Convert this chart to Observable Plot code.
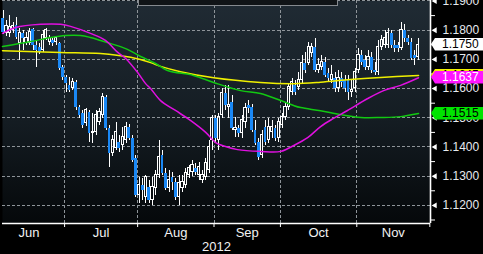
<!DOCTYPE html>
<html><head><meta charset="utf-8">
<script src="https://cdn.jsdelivr.net/npm/d3@7"></script>
<script src="https://cdn.jsdelivr.net/npm/@observablehq/plot@0.6"></script>
<style>
html,body{margin:0;padding:0;background:#000;}
#chart{position:relative;width:483px;height:254px;overflow:hidden;background:#000;}
#legendbox{position:absolute;left:138px;top:-4px;width:198px;height:8px;border:1px solid #858a8f;background:#101417;}
svg{display:block;}
</style></head><body><div id="chart"><div id="legendbox"></div></div>
<script>
// ---- candle data (one per trading day, Jun 5 – Nov 2012) ----
const opens = [1.1840,1.1789,1.1789,1.1799,1.1816,1.1755,1.1789,1.1755,1.1755,1.1803,
1.1748,1.1741,1.1731,1.1772,1.1758,1.1765,1.1758,1.1755,1.1673,1.1639,
1.1611,1.1601,1.1622,1.1536,1.1516,1.1481,1.1519,1.1447,1.1451,1.1485,
1.1509,1.1570,1.1464,1.1379,1.1396,1.1416,1.1406,1.1423,1.1468,1.1430,
1.1362,1.1235,1.1269,1.1228,1.1262,1.1218,1.1259,1.1304,1.1372,1.1310,
1.1259,1.1297,1.1280,1.1228,1.1259,1.1269,1.1304,1.1314,1.1327,1.1304,
1.1286,1.1297,1.1321,1.1423,1.1498,1.1423,1.1509,1.1584,1.1536,1.1553,
1.1457,1.1464,1.1447,1.1485,1.1543,1.1536,1.1457,1.1416,1.1372,1.1468,
1.1423,1.1451,1.1464,1.1430,1.1474,1.1502,1.1536,1.1587,1.1611,1.1604,
1.1628,1.1687,1.1687,1.1721,1.1741,1.1663,1.1673,1.1690,1.1652,1.1628,
1.1635,1.1601,1.1635,1.1628,1.1628,1.1587,1.1601,1.1663,1.1714,1.1697,
1.1673,1.1707,1.1663,1.1656,1.1741,1.1748,1.1748,1.1789,1.1748,1.1748,
1.1738,1.1799,1.1772,1.1758,1.1714,1.1707];
const highs = [1.1868,1.1834,1.1851,1.1827,1.1844,1.1806,1.1799,1.1793,1.1806,1.1806,
1.1765,1.1755,1.1799,1.1806,1.1782,1.1775,1.1779,1.1758,1.1680,1.1646,
1.1639,1.1635,1.1628,1.1543,1.1526,1.1533,1.1526,1.1516,1.1526,1.1533,
1.1584,1.1577,1.1474,1.1440,1.1485,1.1440,1.1468,1.1485,1.1478,1.1440,
1.1372,1.1297,1.1293,1.1304,1.1286,1.1297,1.1321,1.1423,1.1389,1.1327,
1.1321,1.1314,1.1293,1.1304,1.1304,1.1327,1.1338,1.1355,1.1345,1.1348,
1.1321,1.1362,1.1423,1.1509,1.1509,1.1516,1.1601,1.1611,1.1611,1.1577,
1.1502,1.1474,1.1509,1.1550,1.1560,1.1546,1.1492,1.1430,1.1457,1.1492,
1.1498,1.1492,1.1474,1.1498,1.1516,1.1550,1.1618,1.1635,1.1628,1.1656,
1.1714,1.1724,1.1758,1.1755,1.1772,1.1704,1.1714,1.1707,1.1669,1.1680,
1.1656,1.1663,1.1656,1.1646,1.1646,1.1628,1.1669,1.1738,1.1731,1.1714,
1.1731,1.1724,1.1690,1.1765,1.1782,1.1799,1.1806,1.1799,1.1765,1.1758,
1.1827,1.1820,1.1782,1.1772,1.1731,1.1772];
const lows = [1.1786,1.1779,1.1775,1.1789,1.1769,1.1697,1.1731,1.1748,1.1748,1.1731,
1.1673,1.1717,1.1724,1.1765,1.1748,1.1745,1.1748,1.1663,1.1628,1.1587,
1.1587,1.1594,1.1526,1.1498,1.1464,1.1471,1.1416,1.1413,1.1440,1.1474,
1.1498,1.1457,1.1331,1.1368,1.1389,1.1382,1.1389,1.1413,1.1423,1.1348,
1.1228,1.1208,1.1218,1.1208,1.1208,1.1201,1.1235,1.1293,1.1304,1.1252,
1.1245,1.1252,1.1218,1.1201,1.1245,1.1259,1.1293,1.1300,1.1304,1.1286,
1.1276,1.1286,1.1310,1.1389,1.1416,1.1389,1.1498,1.1526,1.1498,1.1457,
1.1433,1.1433,1.1430,1.1464,1.1516,1.1451,1.1406,1.1355,1.1362,1.1406,
1.1413,1.1430,1.1420,1.1416,1.1464,1.1492,1.1526,1.1577,1.1577,1.1594,
1.1618,1.1652,1.1680,1.1707,1.1656,1.1652,1.1663,1.1639,1.1622,1.1618,
1.1587,1.1587,1.1604,1.1587,1.1560,1.1570,1.1587,1.1652,1.1680,1.1663,
1.1663,1.1652,1.1646,1.1646,1.1731,1.1738,1.1738,1.1738,1.1724,1.1724,
1.1731,1.1758,1.1748,1.1697,1.1680,1.1697];
const closes = [1.1793,1.1816,1.1810,1.1816,1.1775,1.1789,1.1772,1.1772,1.1793,1.1748,
1.1731,1.1724,1.1782,1.1799,1.1772,1.1755,1.1772,1.1669,1.1639,1.1618,
1.1594,1.1622,1.1536,1.1509,1.1474,1.1526,1.1447,1.1451,1.1509,1.1519,
1.1570,1.1464,1.1379,1.1423,1.1451,1.1396,1.1433,1.1468,1.1430,1.1355,
1.1235,1.1269,1.1252,1.1297,1.1218,1.1262,1.1304,1.1365,1.1310,1.1259,
1.1286,1.1280,1.1228,1.1276,1.1280,1.1310,1.1327,1.1338,1.1314,1.1331,
1.1304,1.1345,1.1399,1.1498,1.1430,1.1502,1.1584,1.1543,1.1543,1.1464,
1.1464,1.1447,1.1492,1.1533,1.1533,1.1457,1.1413,1.1365,1.1440,1.1416,
1.1468,1.1468,1.1430,1.1485,1.1502,1.1536,1.1604,1.1622,1.1587,1.1628,
1.1687,1.1663,1.1741,1.1741,1.1663,1.1680,1.1690,1.1646,1.1635,1.1646,
1.1601,1.1635,1.1622,1.1601,1.1587,1.1594,1.1656,1.1714,1.1690,1.1673,
1.1707,1.1663,1.1656,1.1741,1.1765,1.1772,1.1789,1.1748,1.1738,1.1738,
1.1799,1.1772,1.1758,1.1704,1.1704,1.1750];

// ---- moving averages (read at sample points; x = trading-day index) ----
const magentaIdx = [-0.2,3.7,11.3,17.3,20.3,26.3,30.8,34.5,36.9,40.5,42.9,44.4,47.4,51.9,56.4,61,64,66,70.6,77.5,83.6,87.5,91.7,95.6,99.5,103.7,109.8,114.6,119.7,125.1];
const magentaVal = [1.1789,1.1809,1.1820,1.1820,1.1813,1.1789,1.1765,1.1724,1.1703,1.1655,1.1617,1.1600,1.1559,1.1525,1.1491,1.1450,1.1415,1.1405,1.1391,1.1385,1.1385,1.1405,1.1432,1.1470,1.1498,1.1525,1.1566,1.1593,1.1611,1.1637];
const greenIdx = [-0.2,8.3,14.3,18.8,23.3,26.3,29.3,32.4,36.9,41.4,45.9,49.5,57.3,63.4,71.5,77.5,83.6,87.5,89.6,95.6,101.6,107.7,113.7,119.7,125.1];
const greenVal = [1.1744,1.1761,1.1775,1.1782,1.1782,1.1775,1.1765,1.1754,1.1737,1.1710,1.1686,1.1662,1.1645,1.1621,1.1593,1.1583,1.1559,1.1542,1.1535,1.1524,1.1511,1.1501,1.1501,1.1504,1.1515];
const yellowIdx = [-0.2,17.3,29.3,38.4,44.4,47.4,53.4,63.4,77.5,87.5,95.6,104.6,113.7,125.1];
const yellowVal = [1.1730,1.1724,1.1720,1.1707,1.1689,1.1676,1.1658,1.1637,1.1621,1.1617,1.1622,1.1631,1.1638,1.1645];

// ---- axes / labels ----
const monthLabels = ["Jun","Jul","Aug","Sep","Oct","Nov"];
const monthBounds = [-3, 18.5, 40.5, 63.5, 83.5, 106.5, 128.5];
const yearLabel = "2012";
const priceTicks = [1.12,1.13,1.14,1.15,1.16,1.17,1.18,1.19];
const halfTicks = [1.115,1.125,1.135,1.145,1.155,1.165,1.175,1.185];
const boxValues = [1.1750, 1.1645, 1.1637, 1.1515];
const boxLabels = ["1.1750", "1.1645", "1.1637", "1.1515"];

// ---- build ----
const boxStyle = [
  {fill: "#ffffff", text: "#000000"},
  {fill: "#f2f200", text: "#000000"},
  {fill: "#ff14ff", text: "#ffffff"},
  {fill: "#00e400", text: "#000000"}
];
const candles = opens.map((o, i) => ({i, o, h: highs[i], l: lows[i], c: closes[i]}));
const up = candles.filter(d => d.c >= d.o);
const down = candles.filter(d => d.c < d.o);
const pts = (xs, vs) => xs.map((x, k) => ({x, v: vs[k]}));
const months = monthLabels.map((label, k) => ({label, x: (monthBounds[k] + monthBounds[k + 1]) / 2}));
const xDomain = [-0.2, 128.7];
const yDomain = [1.1138, 1.19017];
const gridStyle = {stroke: "#8e9499", strokeOpacity: 1, strokeDasharray: "3,2", strokeWidth: 1, shapeRendering: "crispEdges"};

function labelBoxes(index, scales, values, dims) {
  const y = scales.y;
  const x0 = dims.width - dims.marginRight;
  const g = d3.create("svg:g");
  boxValues.forEach((v, k) => {
    const cy = Math.round(y(v));
    g.append("path")
      .attr("d", `M${x0 + 1},${cy} L${x0 + 5},${cy - 6} H${dims.width + 2} V${cy + 6.5} H${x0 + 5} Z`)
      .attr("fill", boxStyle[k].fill);
    g.append("text")
      .attr("x", x0 + 12).attr("y", cy).attr("dy", "0.36em")
      .attr("text-anchor", "start")
      .attr("fill", boxStyle[k].text).attr("font-size", 12)
      .text(boxLabels[k]);
  });
  return g.node();
}

const chart = Plot.plot({
  width: 483, height: 254,
  marginLeft: 2, marginRight: 53, marginTop: 0, marginBottom: 31,
  x: {domain: xDomain, axis: null},
  y: {domain: yDomain, axis: null},
  style: {background: "#000", color: "#fff", fontFamily: "'Liberation Sans', Arial, sans-serif"},
  marks: [
    Plot.frame({fill: "url(#bgGrad)", stroke: "none"}),
    Plot.gridY(priceTicks, gridStyle),
    Plot.gridX(monthBounds.slice(1, -1), gridStyle),
    // wicks
    Plot.ruleX(candles, {x: "i", y1: "h", y2: d => Math.max(d.o, d.c), stroke: "#ffffff", strokeWidth: 1, shapeRendering: "crispEdges"}),
    Plot.ruleX(candles, {x: "i", y1: d => Math.min(d.o, d.c), y2: "l", stroke: "#ffffff", strokeWidth: 1, shapeRendering: "crispEdges"}),
    // bodies
    Plot.rect(down, {x1: d => d.i - 0.42, x2: d => d.i + 0.42, y1: "o", y2: "c", fill: "#1a88f5", shapeRendering: "crispEdges"}),
    Plot.rect(up, {x1: d => d.i - 0.34, x2: d => d.i + 0.34, y1: "o", y2: "c", fill: "none", stroke: "#ffffff", strokeWidth: 1, shapeRendering: "crispEdges"}),
    // moving averages
    Plot.line(pts(yellowIdx, yellowVal), {x: "x", y: "v", stroke: "#f0f000", strokeWidth: 1.5, curve: "catmull-rom"}),
    Plot.line(pts(greenIdx, greenVal), {x: "x", y: "v", stroke: "#12c812", strokeWidth: 1.5, curve: "catmull-rom"}),
    Plot.line(pts(magentaIdx, magentaVal), {x: "x", y: "v", stroke: "#e010e0", strokeWidth: 1.5, curve: "catmull-rom"}),
    // axes lines
    Plot.ruleY([yDomain[0]], {stroke: "#ffffff", strokeWidth: 1.6}),
    Plot.ruleX([xDomain[1]], {stroke: "#ffffff", strokeWidth: 1.6}),
    Plot.axisX(monthBounds.slice(1), {anchor: "bottom", tickSize: 4, tickFormat: () => "", stroke: "#ffffff", strokeOpacity: 1}),
    Plot.axisY(halfTicks, {anchor: "right", tickSize: 4, tickFormat: () => "", stroke: "#ffffff", strokeOpacity: 1}),
    Plot.dot(priceTicks, {y: d => d, frameAnchor: "right", symbol: "triangle2", rotate: -90, r: 2.8, fill: "#ffffff", stroke: "none", dx: 4.5}),
    Plot.text(priceTicks, {y: d => d, text: d => d.toFixed(4), frameAnchor: "right", textAnchor: "start", dx: 12, fill: "#e6eaef", fontSize: 12}),
    labelBoxes,
    Plot.text(months, {x: "x", text: "label", frameAnchor: "bottom", dy: 9, fill: "#f2f2f2", fontSize: 13, lineAnchor: "middle"}),
    Plot.text([yearLabel], {frameAnchor: "bottom", dy: 23, fill: "#f2f2f2", fontSize: 13, lineAnchor: "middle"})
  ]
});

const defs = d3.select(chart).insert("defs", ":first-child");
const grad = defs.append("linearGradient").attr("id", "bgGrad").attr("x1", 0).attr("y1", 0).attr("x2", 0).attr("y2", 1);
grad.append("stop").attr("offset", "0%").attr("stop-color", "#202b34");
grad.append("stop").attr("offset", "55%").attr("stop-color", "#141c22");
grad.append("stop").attr("offset", "100%").attr("stop-color", "#05080a");

document.getElementById("chart").insertBefore(chart, document.getElementById("legendbox"));
</script>
</body></html>
